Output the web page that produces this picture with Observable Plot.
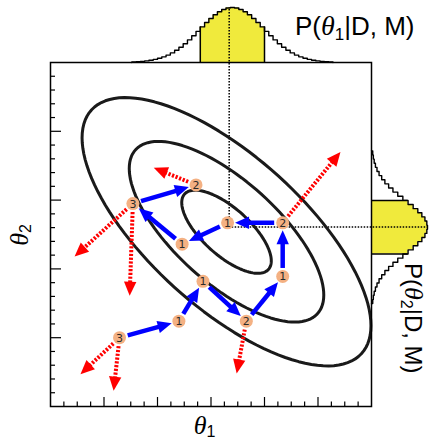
<!DOCTYPE html>
<html><head><meta charset="utf-8">
<script src="https://cdn.jsdelivr.net/npm/d3@7"></script>
<script src="https://cdn.jsdelivr.net/npm/@observablehq/plot@0.6"></script>
<style>body{margin:0;background:#fff}</style>
</head><body><div id="chart"></div>
<script>
// ---------------- data ----------------
const xMajorTicks = [1, 2, 3, 4, 5];
const yMajorTicks = [1, 2, 3, 4];
const xMinorStep = 0.25, yMinorStep = 0.2;

// posterior mode (dotted guide lines)
const modeX = 3.34, modeY = 2.61;

// posterior contour ellipses (centre, spreads, correlation, contour levels)
const ellipseCenter = [3.29, 2.54];
const ellipseSigma = [0.9, 0.65];
const ellipseRho = -0.7;
const ellipseLevels = [0.93, 2.02, 3.0];

// marginal P(θ1|D,M): first bin centre, bin width, relative heights, shaded band
const margXStart = 1.56, margXWidth = 0.08;
const margXHeight = [0.009,0.014,0.020,0.029,0.040,0.056,0.077,0.103,0.135,0.175,0.223,0.278,0.341,0.411,0.487,0.566,0.647,0.726,0.801,0.868,0.923,0.965,0.991,1.000,0.991,0.965,0.923,0.868,0.801,0.726,0.647,0.566,0.487,0.411,0.341,0.278,0.223,0.175,0.135,0.103,0.077,0.056,0.040,0.029,0.020,0.014,0.009];
const margXBand = [2.8, 4.0];

// marginal P(θ2|D,M)
const margYStart = 1.526, margYWidth = 0.06;
const margYHeight = [0.022,0.033,0.048,0.070,0.098,0.135,0.182,0.239,0.306,0.383,0.469,0.560,0.653,0.744,0.827,0.899,0.954,0.988,1.000,0.988,0.954,0.899,0.827,0.744,0.653,0.560,0.469,0.383,0.306,0.239,0.182,0.135,0.098,0.070,0.048,0.033,0.022];
const margYBand = [2.216, 2.996];

// sampler states
const nodeX = [3.31, 4.34, 2.46, 1.54, 2.72, 2.85, 2.40, 1.29, 3.66, 4.34];
const nodeY = [2.67, 2.67, 2.36, 2.95, 3.22, 1.82, 1.24, 1.00, 1.24, 1.89];
const nodeLabel = ["1", "2", "1", "3", "2", "1", "1", "3", "2", "1"];
// accepted moves (blue), in order of the chain
const acceptedPath = [7, 6, 5, 8, 9, 1, 0, 2, 3, 4];
// rejected proposals (red dotted): source node and proposal point
const rejectedFrom = [4, 3, 3, 1, 8, 7, 7];
const rejectedToX = [1.93, 0.45, 1.48, 5.42, 3.48, 0.56, 1.18];
const rejectedToY = [3.47, 2.18, 1.61, 3.70, 0.48, 0.47, 0.23];

// labels
const xLabel = ["θ", "1"];
const yLabel = ["θ", "2"];
const topLabel = ["P(", "θ", "1", "|D, M)"];
const rightLabel = ["P(", "θ", "2", "|D, M)"];

// ---------------- layout ----------------
const W = 429, H = 442, ML = 50, MR = 58, MT = 62, MB = 36;
const kx = (W - ML - MR) / 6, ky = (H - MT - MB) / 5;   // px per unit
const topPeak = 55 / ky, rightPeak = 56 / kx;
const R = 6.5, TIP = 7, HL = 14, HW = 6.2;
const yellow = "#f0ea3c";
const BLUE = "#0000ff", RED = "#ff0000";

// ---------------- derived ----------------
const xMinor = d3.range(xMinorStep, 6, xMinorStep).filter(v => Math.abs(v - Math.round(v)) > 1e-6);
const yMinor = d3.range(yMinorStep, 5, yMinorStep).filter(v => Math.abs(v - Math.round(v)) > 1e-6);

const [cx, cy] = ellipseCenter, [sx, sy] = ellipseSigma, rho = ellipseRho;
const ellipsePts = ellipseLevels.flatMap((L, li) => d3.range(0, 361, 3).map(a => {
  const t = a * Math.PI / 180;
  return {level: li, x: cx + L * sx * Math.cos(t), y: cy + L * sy * (rho * Math.cos(t) + Math.sqrt(1 - rho * rho) * Math.sin(t))};
}));

const xBins = margXHeight.map((h, i) => { const c = margXStart + i * margXWidth; return {c, x1: c - margXWidth / 2, x2: c + margXWidth / 2, h}; });
const xStep = [{x: xBins[0].x1, y: 5}, ...xBins.map(b => ({x: b.x1, y: 5 + b.h * topPeak})), {x: xBins[xBins.length - 1].x2, y: 5}];
const xBandBins = xBins.filter(b => b.c > margXBand[0] && b.c < margXBand[1]);
const xLastB = xBandBins[xBandBins.length - 1];
const xBandPts = [...xBandBins.map(b => ({x: b.x1, y: 5 + b.h * topPeak})), {x: xLastB.x2, y: 5 + xLastB.h * topPeak}];
const xBandEdges = [{x: xBandBins[0].x1, y: 5 + xBandBins[0].h * topPeak}, {x: xLastB.x2, y: 5 + xLastB.h * topPeak}];

const yBins = margYHeight.map((h, i) => { const c = margYStart + i * margYWidth; return {c, y1: c - margYWidth / 2, y2: c + margYWidth / 2, h}; });
const yStep = [{x: 6, y: yBins[0].y1}, ...yBins.map(b => ({x: 6 + b.h * rightPeak, y: b.y1})), {x: 6, y: yBins[yBins.length - 1].y2}];
const yBandBins = yBins.filter(b => b.c > margYBand[0] && b.c < margYBand[1]);
const yLastB = yBandBins[yBandBins.length - 1];
const yBandPts = [...yBandBins.map(b => ({y: b.y1, x: 6 + b.h * rightPeak})), {y: yLastB.y2, x: 6 + yLastB.h * rightPeak}];
const yBandEdges = [{y: yBandBins[0].y1, x: 6 + yBandBins[0].h * rightPeak}, {y: yLastB.y2, x: 6 + yLastB.h * rightPeak}];

function inset(x1, y1, x2, y2, a, b) {
  const dx = (x2 - x1) * kx, dy = (y2 - y1) * ky, len = Math.hypot(dx, dy);
  const ux = dx / len / kx, uy = dy / len / ky;
  return {x1: x1 + ux * a, y1: y1 + uy * a, x2: x2 - ux * b, y2: y2 - uy * b};
}
const nodes = nodeX.map((x, i) => ({x, y: nodeY[i], label: nodeLabel[i]}));
const accepted = acceptedPath.slice(1).map((t, i) => { const s = acceptedPath[i]; return inset(nodeX[s], nodeY[s], nodeX[t], nodeY[t], R + 2, R + 1 + TIP); });
const rejected = rejectedFrom.map((s, i) => inset(nodeX[s], nodeY[s], rejectedToX[i], rejectedToY[i], R + 2, TIP));

// ---------------- chart ----------------
const chart = Plot.plot({
  width: W, height: H, marginLeft: ML, marginRight: MR, marginTop: MT, marginBottom: MB,
  x: {domain: [0, 6], axis: null},
  y: {domain: [0, 5], axis: null},
  style: {background: "white", overflow: "visible"},
  marks: [
    // marginals
    Plot.areaY(xBandPts, {x: "x", y1: 5, y2: "y", curve: "step-after", fill: yellow}),
    Plot.areaX(yBandPts, {y: "y", x1: 6, x2: "x", curve: "step-before", fill: yellow}),
    Plot.ruleX(xBandEdges, {x: "x", y1: 5, y2: "y", stroke: "black", strokeWidth: 1.5}),
    Plot.ruleY(yBandEdges, {y: "y", x1: 6, x2: "x", stroke: "black", strokeWidth: 1.5}),
    Plot.line(xStep, {x: "x", y: "y", curve: "step-after", stroke: "black", strokeWidth: 1.4}),
    Plot.line(yStep, {x: "x", y: "y", curve: "step-before", stroke: "black", strokeWidth: 1.4}),
    // dotted guides to the mode
    Plot.ruleX([modeX], {y1: modeY, y2: 5 + topPeak, stroke: "black", strokeWidth: 1.5, strokeDasharray: "1.5,1.5"}),
    Plot.ruleY([modeY], {x1: modeX, x2: 6 + rightPeak, stroke: "black", strokeWidth: 1.5, strokeDasharray: "1.5,1.5"}),
    // contours
    Plot.line(ellipsePts, {x: "x", y: "y", z: "level", stroke: "#1a1a1a", strokeWidth: 3}),
    // ticks (inside)
    Plot.ruleX(xMinor, {y1: 0, y2: 4.5 / ky, stroke: "black", strokeWidth: 1.2}),
    Plot.ruleX(xMajorTicks, {y1: 0, y2: 9 / ky, stroke: "black", strokeWidth: 1.2}),
    Plot.ruleY(yMinor, {x1: 0, x2: 5 / kx, stroke: "black", strokeWidth: 1.2}),
    Plot.ruleY(yMajorTicks, {x1: 0, x2: 11 / kx, stroke: "black", strokeWidth: 1.2}),
    Plot.frame({stroke: "black", strokeWidth: 1.5}),
    // moves
    Plot.link(rejected, {x1: "x1", y1: "y1", x2: "x2", y2: "y2", stroke: RED, strokeWidth: 4, strokeDasharray: "2.2,1.6"}),
    Plot.link(accepted, {x1: "x1", y1: "y1", x2: "x2", y2: "y2", stroke: BLUE, strokeWidth: 4.5}),
    Plot.dot(nodes, {x: "x", y: "y", r: R, fill: "#f4b183", stroke: "none"}),
    Plot.text(nodes, {x: "x", y: "y", text: "label", fontSize: 11, fill: "#2a2a2a", fontFamily: "DejaVu Sans", textAnchor: "middle", lineAnchor: "middle", dy: 0.5})
  ]
});
document.getElementById("chart").appendChild(chart);

// arrow heads
const svg = d3.select(chart);
const defs = svg.insert("defs", ":first-child");
function addMarker(id, color) {
  defs.append("marker").attr("id", id).attr("markerUnits", "userSpaceOnUse")
    .attr("viewBox", "-12 -8 24 16").attr("markerWidth", 24).attr("markerHeight", 16)
    .attr("refX", 0).attr("refY", 0).attr("orient", "auto").attr("overflow", "visible")
    .append("path").attr("d", `M${TIP},0L${TIP - HL},${-HW}L${TIP - HL},${HW}Z`)
    .attr("fill", color).attr("stroke", "none");
}
addMarker("headBlue", BLUE);
addMarker("headRed", RED);
svg.selectAll("g").each(function () {
  const g = d3.select(this);
  const s = (g.attr("stroke") || "").toLowerCase();
  if (g.attr("aria-label") !== "link") return;
  if (s === BLUE) g.selectAll("path").attr("marker-end", "url(#headBlue)");
  else if (s === RED) g.selectAll("path").attr("marker-end", "url(#headRed)");
});

// axis / marginal labels
const SANS = "'Liberation Sans', Arial, Helvetica, sans-serif", SERIF = "'Liberation Serif', 'Times New Roman', serif";
function label(x, y, rot, anchor, parts) {
  const t = svg.append("text").attr("transform", `translate(${x},${y}) rotate(${rot})`)
    .attr("text-anchor", anchor).attr("fill", "black");
  parts.forEach(p => t.append("tspan").text(p.text).attr("font-family", p.serif ? SERIF : SANS)
    .attr("font-style", p.serif ? "italic" : "normal").attr("font-size", p.size).attr("dy", p.dy || 0));
}
label(204.5, 434, 0, "middle", [{text: xLabel[0], serif: true, size: 26}, {text: xLabel[1], size: 16, dy: 3}]);
label(28, 235, -90, "middle", [{text: yLabel[0], serif: true, size: 26}, {text: yLabel[1], size: 16, dy: 3}]);
label(295, 35, 0, "start", [{text: topLabel[0], size: 26}, {text: topLabel[1], serif: true, size: 28}, {text: topLabel[2], size: 17, dy: 5}, {text: topLabel[3], size: 26, dy: -5}]);
label(405, 263, 90, "start", [{text: rightLabel[0], size: 24}, {text: rightLabel[1], serif: true, size: 26}, {text: rightLabel[2], size: 16, dy: 4}, {text: rightLabel[3], size: 24, dy: -4}]);
</script>
</body></html>
